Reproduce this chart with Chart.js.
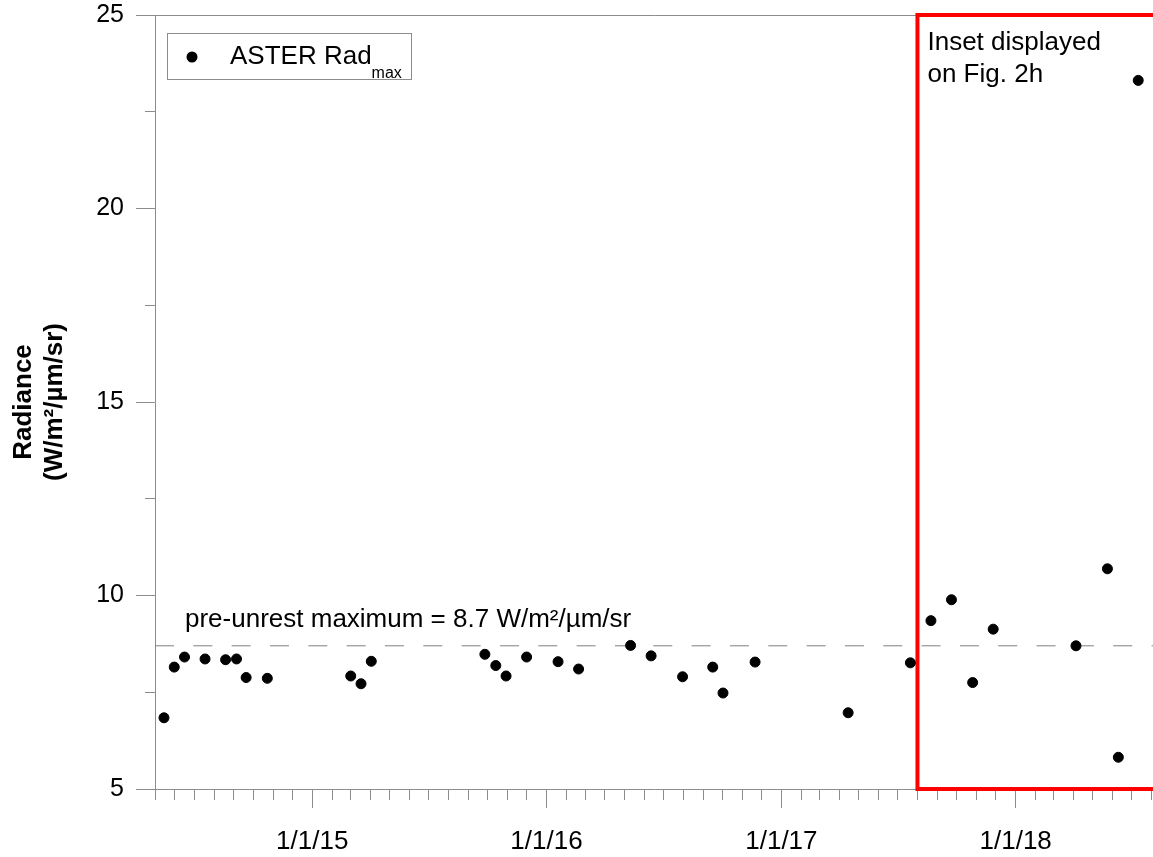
<!DOCTYPE html>
<html>
<head>
<meta charset="utf-8">
<title>ASTER Rad max</title>
<script src="https://cdn.jsdelivr.net/npm/chart.js@4.4.1/dist/chart.umd.min.js"></script>
<style>
  html, body { margin: 0; padding: 0; background: #fff; }
  #wrap { width: 1153px; height: 857px; }
</style>
</head>
<body>
<div id="wrap"><canvas id="rad-chart" width="1153" height="857"></canvas></div>
<script>
// ASTER overpass dates and maximum radiance (W/m2/um/sr)
var asterDates = [
    '2014-05-15', '2014-05-31', '2014-06-16', '2014-07-18', '2014-08-19', '2014-09-05',
    '2014-09-20', '2014-10-23', '2015-03-02', '2015-03-18', '2015-04-03', '2015-09-27',
    '2015-10-14', '2015-10-30', '2015-12-01', '2016-01-19', '2016-02-20', '2016-05-11',
    '2016-06-12', '2016-07-31', '2016-09-16', '2016-10-02', '2016-11-21', '2017-04-15',
    '2017-07-21', '2017-08-22', '2017-09-23', '2017-10-26', '2017-11-27', '2018-04-05',
    '2018-05-24', '2018-06-10', '2018-07-11'
];
var radMax = [
    6.84, 8.15, 8.41, 8.36, 8.34, 8.36,
    7.88, 7.86, 7.92, 7.72, 8.30, 8.48,
    8.19, 7.92, 8.41, 8.29, 8.10, 8.71,
    8.44, 7.90, 8.15, 7.48, 8.28, 6.97,
    8.26, 9.35, 9.89, 7.75, 9.13, 8.70,
    10.69, 5.82, 23.31
];
var preUnrestMax = 8.7;
var insetStart = '2017-08-01';
var axisStart = '2014-05-01';
var axisEnd = '2018-08-03';
var yLabelTicks = [5, 10, 15, 20, 25];

var yTitle = ['Radiance', '(W/m\u00b2/\u00b5m/sr)'];
var legendLabel = 'ASTER Rad';
var legendSub = 'max';
var thresholdLabel = 'pre-unrest maximum = 8.7 W/m\u00b2/\u00b5m/sr';
var insetLabel = ['Inset displayed', 'on Fig. 2h'];

var axisGray = '#8c8c8c';
var fontFamily = '"Liberation Sans", Arial, sans-serif';

function dayNum(s) {
    var p = s.split('-');
    return Date.UTC(+p[0], +p[1] - 1, +p[2]) / 86400000;
}
var xMin = dayNum(axisStart);
var xMax = dayNum(axisEnd);
var xInset = dayNum(insetStart);

function isYearStart(v) {
    var d = new Date(v * 86400000);
    return d.getUTCMonth() === 0 && d.getUTCDate() === 1;
}

// one tick per month, long ones on 1 January
function monthTicks() {
    var out = [];
    var d = new Date(xMin * 86400000);
    var y = d.getUTCFullYear(), m = d.getUTCMonth();
    while (true) {
        var v = Date.UTC(y, m, 1) / 86400000;
        if (v > xMax) break;
        if (v >= xMin) out.push({ value: v });
        m++;
        if (m > 11) { m = 0; y++; }
    }
    return out;
}

var points = asterDates.map(function (d, i) {
    return { x: dayNum(d), y: radMax[i] };
});

var textPlugin = {
    id: 'textPlugin',
    afterDatasetsDraw: function (chart) {
        var ctx = chart.ctx;
        var area = chart.chartArea;
        var xs = chart.scales.x, ys = chart.scales.y;
        ctx.save();
        ctx.fillStyle = '#000';
        ctx.textAlign = 'left';
        ctx.textBaseline = 'alphabetic';
        ctx.font = '26px ' + fontFamily;

        ctx.fillText(thresholdLabel, area.left + 30, ys.getPixelForValue(preUnrestMax) - 19);

        var ix = xs.getPixelForValue(xInset) + 10;
        insetLabel.forEach(function (line, i) {
            ctx.fillText(line, ix, area.top + 35 + i * 31.7);
        });

        // legend box
        var lx = Math.round(area.left + 12), ly = Math.round(area.top + 17.5);
        ctx.strokeStyle = axisGray;
        ctx.lineWidth = 1;
        ctx.strokeRect(lx + 0.5, ly + 0.5, 244, 46);
        ctx.beginPath();
        ctx.arc(lx + 25, ly + 24, 5.5, 0, Math.PI * 2);
        ctx.fill();
        ctx.fillText(legendLabel, lx + 63, ly + 31);
        var w = ctx.measureText(legendLabel).width;
        ctx.font = '16px ' + fontFamily;
        ctx.fillText(legendSub, lx + 63 + w, ly + 45);
        ctx.restore();
    }
};

Chart.defaults.font.family = fontFamily;

new Chart(document.getElementById('rad-chart'), {
    type: 'scatter',
    data: {
        datasets: [{
            label: 'ASTER Rad max',
            data: points,
            backgroundColor: '#000',
            borderColor: '#000',
            pointRadius: 5,
            pointBorderWidth: 1,
            order: 0
        }, {
            label: 'inset',
            data: [
                { x: xMax, y: 25 }, { x: xInset, y: 25 },
                { x: xInset, y: 5 }, { x: xMax, y: 5 }
            ],
            showLine: true,
            borderColor: '#ff0000',
            borderWidth: 4,
            borderJoinStyle: 'miter',
            pointRadius: 0,
            clip: false,
            order: 1
        }, {
            label: 'pre-unrest maximum',
            data: [{ x: xMin, y: preUnrestMax }, { x: xMax, y: preUnrestMax }],
            showLine: true,
            borderColor: '#7f7f7f',
            borderWidth: 1,
            borderDash: [19, 19.33],
            pointRadius: 0,
            order: 2
        }]
    },
    options: {
        responsive: false,
        animation: false,
        layout: { padding: { top: 15, left: 0, right: 0, bottom: 0 }, autoPadding: false },
        plugins: {
            legend: { display: false },
            tooltip: { enabled: false }
        },
        scales: {
            x: {
                type: 'linear',
                position: 'bottom',
                min: xMin,
                max: xMax,
                afterBuildTicks: function (scale) { scale.ticks = monthTicks(); },
                afterFit: function (scale) {
                    scale.height = 68;
                    scale.paddingLeft = 0;
                    scale.paddingRight = 0;
                },
                ticks: {
                    autoSkip: false,
                    maxRotation: 0,
                    minRotation: 0,
                    padding: 18,
                    color: '#000',
                    font: { size: 26 },
                    callback: function (v) {
                        if (!isYearStart(v)) return '';
                        var d = new Date(v * 86400000);
                        return '1/1/' + String(d.getUTCFullYear()).slice(2);
                    }
                },
                grid: {
                    drawOnChartArea: false,
                    tickLength: 19,
                    tickColor: axisGray,
                    tickWidth: 1,
                    tickBorderDash: function (c) {
                        return c.tick && isYearStart(c.tick.value) ? [] : [10, 40];
                    }
                },
                border: { color: axisGray, width: 1 }
            },
            y: {
                min: 5,
                max: 25,
                afterFit: function (scale) {
                    scale.width = 155;
                    scale.paddingTop = 0;
                    scale.paddingBottom = 0;
                },
                ticks: {
                    stepSize: 2.5,
                    padding: 12,
                    color: '#000',
                    font: { size: 25 },
                    callback: function (v) {
                        return yLabelTicks.indexOf(v) >= 0 ? String(v) : '';
                    }
                },
                grid: {
                    color: function (c) {
                        return c.tick && c.tick.value === 25 ? axisGray : 'rgba(0,0,0,0)';
                    },
                    tickColor: axisGray,
                    tickLength: 19,
                    tickBorderDash: function (c) {
                        return c.tick && yLabelTicks.indexOf(c.tick.value) >= 0 ? [] : [0, 9, 10, 40];
                    }
                },
                border: { color: axisGray, width: 1 },
                title: {
                    display: true,
                    text: yTitle,
                    color: '#000',
                    font: { size: 26, weight: 'bold' },
                    padding: { top: 8, bottom: 0 }
                }
            }
        }
    },
    plugins: [textPlugin]
});
</script>
</body>
</html>
